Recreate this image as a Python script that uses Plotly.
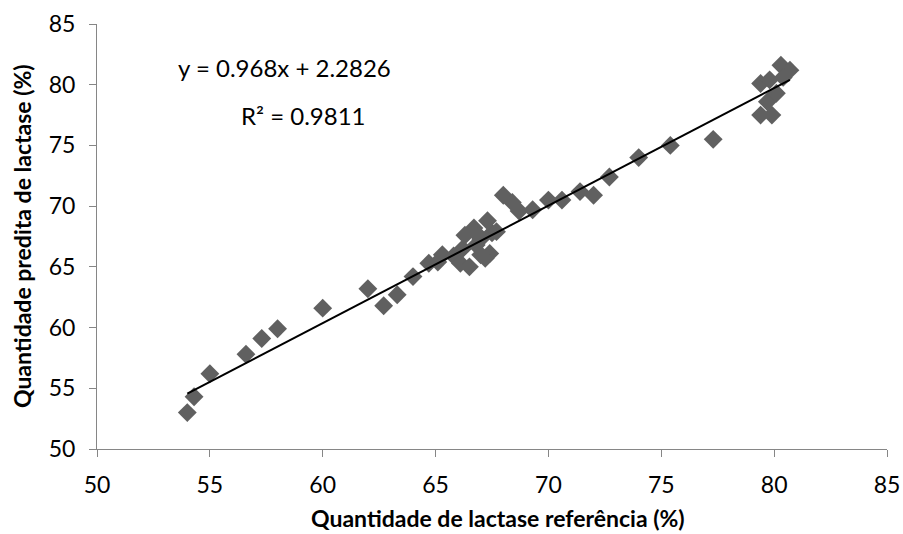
import plotly.graph_objects as go

# Reference vs predicted lactase content (%)
referencia = [
    54.0, 54.3, 55.0, 56.6, 57.3, 58.0, 60.0, 62.0, 62.7, 63.3, 64.0, 64.7, 65.1,
    65.3, 65.8, 66.1, 66.2, 66.3, 66.5, 66.7, 66.8, 67.0, 67.2, 67.3, 67.4, 67.5, 67.7,
    67.0, 66.9,
    68.0, 68.4, 68.7, 69.3, 70.0, 70.6, 71.4, 72.0, 72.7, 74.0, 75.4, 77.3,
    79.4, 79.4, 79.7, 79.9, 80.1, 79.8, 80.3, 80.7, 80.4,
]
predita = [
    53.0, 54.3, 56.2, 57.8, 59.1, 59.9, 61.6, 63.2, 61.8, 62.7, 64.2, 65.3, 65.4,
    66.0, 65.9, 65.3, 66.5, 67.6, 65.0, 68.2, 66.8, 67.3, 65.7, 68.8, 66.1, 67.8, 67.9,
    66.0, 67.6,
    70.9, 70.3, 69.6, 69.7, 70.5, 70.5, 71.2, 70.9, 72.4, 74.0, 75.0, 75.5,
    80.1, 77.5, 78.6, 77.5, 79.3, 80.4, 81.6, 81.2, 80.6,
]

# Linear fit reported on the chart
inclinacao = 0.968
intercepto = 2.2826
r2 = 0.9811

x_fit = [min(referencia), max(referencia)]
y_fit = [inclinacao * v + intercepto for v in x_fit]

fonte = "Lato, 'Open Sans', sans-serif"

fig = go.Figure()
fig.add_trace(go.Scatter(
    x=referencia, y=predita, mode="markers",
    marker=dict(symbol="diamond", size=14.5, color="#606060", line=dict(width=0)),
    showlegend=False, hoverinfo="x+y",
))
fig.add_trace(go.Scatter(
    x=x_fit, y=y_fit, mode="lines",
    line=dict(color="black", width=2),
    showlegend=False, hoverinfo="skip",
))

# Fit equation and R²
fig.add_annotation(
    x=58.3, y=81.45, xref="x", yref="y",
    text=f"y = {inclinacao}x + {intercepto}", showarrow=False,
    font=dict(family=fonte, size=24, color="black"),
)
fig.add_annotation(
    x=59.15, y=77.5, xref="x", yref="y",
    text=f"R² = {r2}", showarrow=False,
    font=dict(family=fonte, size=24, color="black"),
)

# Axis titles
fig.add_annotation(
    x=0.5076, y=-0.163, xref="paper", yref="paper",
    xanchor="center", yanchor="middle",
    text="<b>Quantidade de lactase referência (%)</b>", showarrow=False,
    font=dict(family=fonte, size=23, color="black"),
)
fig.add_annotation(
    x=-0.0955, y=0.5, xref="paper", yref="paper", textangle=-90,
    xanchor="center", yanchor="middle",
    text="<b>Quantidade predita de lactase (%)</b>", showarrow=False,
    font=dict(family=fonte, size=23, color="black"),
)

eixo = dict(
    showgrid=False, zeroline=False, showline=True, linecolor="#868686", linewidth=1,
    ticks="outside", ticklen=7, tickcolor="#868686", dtick=5, automargin=False,
    tickfont=dict(family=fonte, size=23, color="black"),
)

fig.update_layout(
    width=903, height=534,
    margin=dict(l=97, r=16, t=24, b=85),
    paper_bgcolor="white", plot_bgcolor="white",
    xaxis=dict(eixo, range=[50, 85], tick0=50, ticklabelstandoff=8),
    yaxis=dict(eixo, range=[50, 85], tick0=50, ticklabelstandoff=9),
)

fig.write_html("out.html")
